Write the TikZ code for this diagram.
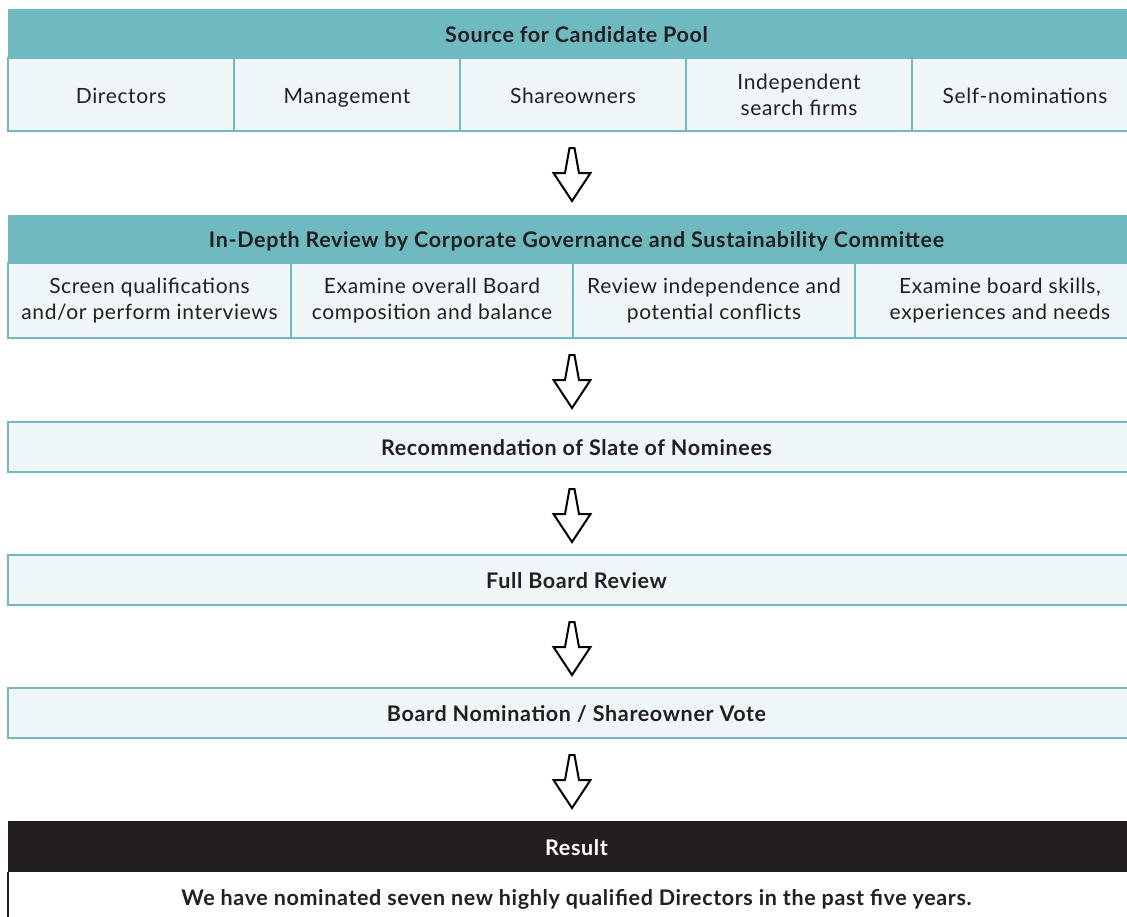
\documentclass[tikz,border=0pt]{standalone}
\usepackage{fontspec}
\setmainfont{Lato}[LetterSpace=3]
\usetikzlibrary{positioning}

\definecolor{hdrteal}{HTML}{6FBAC0}
\definecolor{cellfill}{HTML}{EFF7F9}
\definecolor{inkdark}{HTML}{231F20}

\tikzset{
  hollowarrow/.pic={
    \draw[line width=2pt, line join=miter, fill=white]
      (-2.5,0) -- (2.5,0) -- (7,25) -- (18.5,25) -- (0,53) -- (-18.5,25) -- (-7,25) -- cycle;
  }
}

\begin{document}
\begin{tikzpicture}[x=1pt, y=-1pt,
  every node/.style={inner sep=0pt, outer sep=0pt, text=inkdark},
  header/.style={fill=hdrteal, anchor=north west, minimum width=1137, text height=19pt, text depth=2pt, font=\fontsize{21.5}{24}\selectfont\bfseries},
  cell/.style={draw=hdrteal, line width=2pt, fill=cellfill, anchor=north west, align=center, font=\fontsize{21}{26}\selectfont},
  oneline/.style={text height=19pt, text depth=2pt},
  stage/.style={draw=hdrteal, line width=1.6pt, fill=cellfill, anchor=north west, minimum width=1137, minimum height=50, text height=19pt, text depth=2pt, font=\fontsize{21.5}{24}\selectfont\bfseries}
]
\useasboundingbox (0,0) rectangle (1127,916);

% source for candidate pool
\node[header, minimum height=49] (src) at (8,9) {Source for Candidate Pool};
\node[cell, oneline, minimum width=226, minimum height=73] (dir) at (8,58) {Directors};
\node[cell, oneline, minimum width=226, minimum height=73, right=0pt of dir] (mgmt) {Management};
\node[cell, oneline, minimum width=226, minimum height=73, right=0pt of mgmt] (share) {Shareowners};
\node[cell, minimum width=226, minimum height=73, right=0pt of share] (firms) {Independent\\search firms};
\node[cell, oneline, minimum width=226, minimum height=73, right=0pt of firms] (self) {Self-nominations};

\pic at (572,148) {hollowarrow};

% in-depth review
\node[header, minimum height=48] (rev) at (8,215) {In-Depth Review by Corporate Governance and Sustainability Committee};
\node[cell, minimum width=283, minimum height=75] (screen) at (8,263) {Screen qualifications\\and/or perform interviews};
\node[cell, minimum width=282, minimum height=75, right=0pt of screen] (comp) {Examine overall Board\\composition and balance};
\node[cell, minimum width=282, minimum height=75, right=0pt of comp] (indep) {Review independence and\\potential conflicts};
\node[cell, minimum width=290, minimum height=75, right=0pt of indep] (skills) {Examine board skills,\\experiences and needs};

\pic at (572,355) {hollowarrow};

% later stages
\node[stage] (rec) at (8,422) {Recommendation of Slate of Nominees};
\pic at (572,489) {hollowarrow};
\node[stage] (full) at (8,555) {Full Board Review};
\pic at (572,622) {hollowarrow};
\node[stage] (vote) at (8,688) {Board Nomination / Shareowner Vote};
\pic at (572,755) {hollowarrow};

% result
\node[header, fill=inkdark, text=white, minimum height=51] (res) at (8,821) {Result};
\node[anchor=north west, minimum width=1137, minimum height=50, text height=19pt, text depth=2pt, font=\fontsize{21.5}{24}\selectfont\bfseries] (outcome) at (res.south west) {We have nominated seven new highly qualified Directors in the past five years.};
\draw[inkdark, line width=2pt] (outcome.north west) -- (outcome.south west);
\end{tikzpicture}
\end{document}
